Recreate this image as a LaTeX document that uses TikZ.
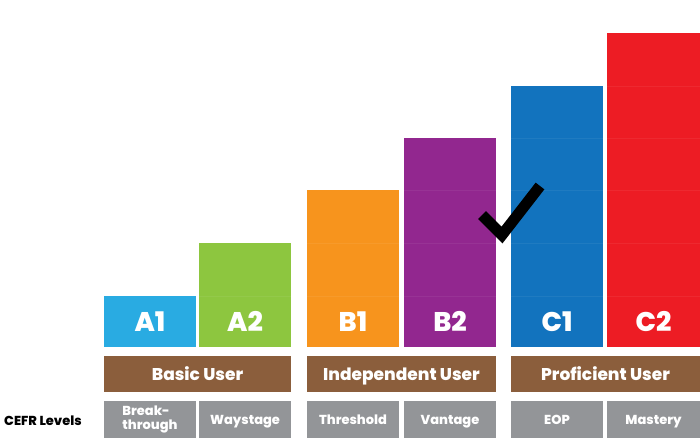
\documentclass[tikz,border=0pt]{standalone}
\usepackage{fontspec}
\setmainfont{Poppins}[BoldFont={Poppins ExtraBold}]
\definecolor{cAone}{HTML}{29ABE2}
\definecolor{cAtwo}{HTML}{8DC63F}
\definecolor{cBone}{HTML}{F7941D}
\definecolor{cBtwo}{HTML}{92278F}
\definecolor{cCone}{HTML}{1273BE}
\definecolor{cCtwo}{HTML}{ED1C24}
\definecolor{cband}{HTML}{8B5E3C}
\definecolor{ctag}{HTML}{939598}
\begin{document}
\begin{tikzpicture}[x=1pt,y=-1pt,
		bar/.style={inner sep=0pt, outer sep=0pt, minimum width=92pt, anchor=south west},
		lvl/.style={text=white, inner sep=0pt, text height=19pt, text depth=0pt, font=\bfseries\fontsize{27}{27}\selectfont},
		band/.style={fill=cband, inner sep=0pt, outer sep=0pt, minimum width=189pt, minimum height=36pt, anchor=north west, text height=12pt, text depth=0pt, text=white, font=\bfseries\fontsize{17}{17}\selectfont},
		tag/.style={fill=ctag, inner sep=0pt, outer sep=0pt, minimum width=92pt, minimum height=37pt, anchor=north west, text=white, font=\bfseries\fontsize{13}{13}\selectfont},
		seam/.style={white, opacity=0.06, line width=0.8pt}]
	\useasboundingbox (0,0) rectangle (700,444);
	% level bars
	\node [bar, fill=cAone, minimum height=51pt] (a1) at (104,347) {};
	\node [bar, fill=cAtwo, minimum height=104pt] (a2) at (199,347) {};
	\node [bar, fill=cBone, minimum height=157pt] (b1) at (307,347) {};
	\node [bar, fill=cBtwo, minimum height=209pt] (b2) at (404,347) {};
	\node [bar, fill=cCone, minimum height=261pt] (c1) at (511,347) {};
	\node [bar, fill=cCtwo, minimum height=314pt, minimum width=93pt] (c2) at (607,347) {};
	% faint block seams
	\foreach \b/\ys in {a2/{296}, b1/{296,243}, b2/{296,243,190}, c1/{296,243,190,138}, c2/{296,243,190,138,86}}
		\foreach \y in \ys
			\draw [seam] (\b.west |- 0,\y) -- (\b.east |- 0,\y);
	% level names
	\node [lvl] (la1) at (a1.south |- 0,322) {A1};
	\node [lvl] (la2) at (a2.south |- 0,322) {A2};
	\node [lvl] (lb1) at (b1.south |- 0,322) {B1};
	\node [lvl] (lb2) at (b2.south |- 0,322) {B2};
	\node [lvl] (lc1) at (c1.south |- 0,322) {C1};
	\node [lvl] (lc2) at (c2.south |- 0,322) {C2};
	% user bands
	\node [band, minimum width=187pt] (basic) at (104,356) {Basic User};
	\node [band] (indep) at (307,356) {Independent User};
	\node [band] (profi) at (511,356) {Proficient User};
	% CEFR tags
	\node [tag, align=left, font=\bfseries\fontsize{13}{14}\selectfont] (t1) at (104,401) {Break-\\through};
	\node [tag, text height=9pt, text depth=0pt] (t2) at (199,401) {Waystage};
	\node [tag, text height=9pt, text depth=0pt] (t3) at (307,401) {Threshold};
	\node [tag, text height=9pt, text depth=0pt] (t4) at (404,401) {Vantage};
	\node [tag, text height=9pt, text depth=0pt] (t5) at (511,401) {EOP};
	\node [tag, text height=9pt, text depth=0pt, minimum width=93pt] (t6) at (607,401) {Mastery};
	\node [anchor=west, inner sep=0pt, font=\bfseries\fontsize{13}{13}\selectfont] (cefr) at (4,421) {CEFR Levels};
	% check mark
	\coordinate (k1) at (482,215);
	\coordinate (k2) at (502,235);
	\coordinate (k3) at (540,186);
	\draw [black, line width=11pt, miter limit=4] (k1) -- (k2) -- (k3);
\end{tikzpicture}
\end{document}
